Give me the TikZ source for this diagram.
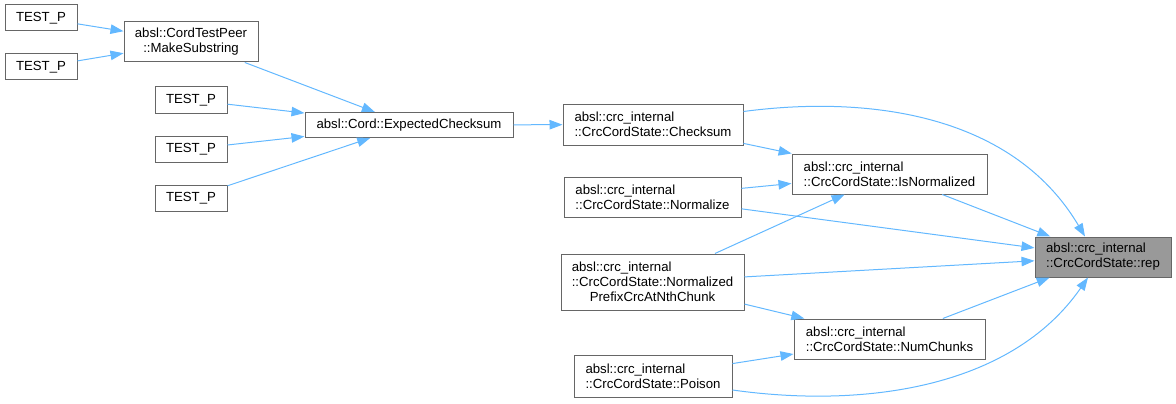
\documentclass[tikz,border=0pt]{standalone}
\usepackage{fontspec}
\setmainfont{Liberation Sans}
\usetikzlibrary{arrows.meta}
\definecolor{edgeblue}{HTML}{63B8FF}
\definecolor{boxline}{HTML}{666666}
\definecolor{repfill}{HTML}{999999}
\begin{document}
\begin{tikzpicture}[x=1pt,y=-1pt,
  box/.style={draw=boxline,line width=1pt,fill=white,inner sep=0pt,
    font=\fontsize{13.2}{15}\selectfont,align=left},
  boxc/.style={box,align=center},
  edge/.style={draw=edgeblue,line width=1pt,-{Triangle[length=13pt,width=9.5pt]}}]
\useasboundingbox (0,0) rectangle (1176,404);
\node[box,minimum width=72pt,minimum height=26pt] (t1) at (41,18) {TEST\_P};
\node[box,minimum width=72pt,minimum height=26pt] (t2) at (41,67) {TEST\_P};
\node[boxc,minimum width=134pt,minimum height=40pt] (ms) at (191,42) {absl::CordTestPeer\\::MakeSubstring};
\node[box,minimum width=72pt,minimum height=26pt] (t3) at (191,100) {TEST\_P};
\node[box,minimum width=72pt,minimum height=26pt] (t4) at (191,149) {TEST\_P};
\node[box,minimum width=72pt,minimum height=26pt] (t5) at (191,198) {TEST\_P};
\node[box,minimum width=208pt,minimum height=25pt] (ec) at (409,125) {absl::Cord::ExpectedChecksum};
\node[box,minimum width=180pt,minimum height=41pt] (cs) at (653,124.5) {absl::crc\_internal\\::CrcCordState::Checksum};
\node[box,minimum width=177pt,minimum height=40pt] (nz) at (652.5,197) {absl::crc\_internal\\::CrcCordState::Normalize};
\node[box,minimum width=195pt,minimum height=40pt] (isn) at (889.5,174) {absl::crc\_internal\\::CrcCordState::IsNormalized};
\node[boxc,minimum width=183pt,minimum height=56pt] (nfp) at (652.5,282) {\rlap{absl::crc\_internal}\phantom{::CrcCordState::Normalized}\\::CrcCordState::Normalized\\PrefixCrcAtNthChunk};
\node[box,minimum width=191pt,minimum height=40pt] (nc) at (889.5,339) {absl::crc\_internal\\::CrcCordState::NumChunks};
\node[box,minimum width=158pt,minimum height=42pt] (po) at (653,376) {absl::crc\_internal\\::CrcCordState::Poison};
\node[box,fill=repfill,minimum width=136pt,minimum height=40pt] (rep) at (1103,257) {absl::crc\_internal\\::CrcCordState::rep};

\draw[edge] (t1) -- (ms);
\draw[edge] (t2) -- (ms);
\draw[edge] (ms) -- (ec);
\draw[edge] (t3) -- (ec);
\draw[edge] (t4) -- (ec);
\draw[edge] (t5) -- (ec);
\draw[edge] (ec) -- (cs);
\draw[edge] (cs) -- (isn);
\draw[edge] (nz) -- (isn);
\draw[edge] (nfp) -- (isn);
\draw[edge] (nfp) -- (nc);
\draw[edge] (po) -- (nc);
\draw[edge] (isn) -- (rep);
\draw[edge] (nz) -- (rep);
\draw[edge] (nfp) -- (rep);
\draw[edge] (nc) -- (rep);
\draw[edge] ([yshift=13pt]cs.east) .. controls (860,96) and (1010,110) .. ([xshift=-18pt]rep.north);
\draw[edge] ([yshift=-14pt]po.east) .. controls (860,408) and (1010,390) .. ([xshift=-15pt]rep.south);
\end{tikzpicture}
\end{document}
